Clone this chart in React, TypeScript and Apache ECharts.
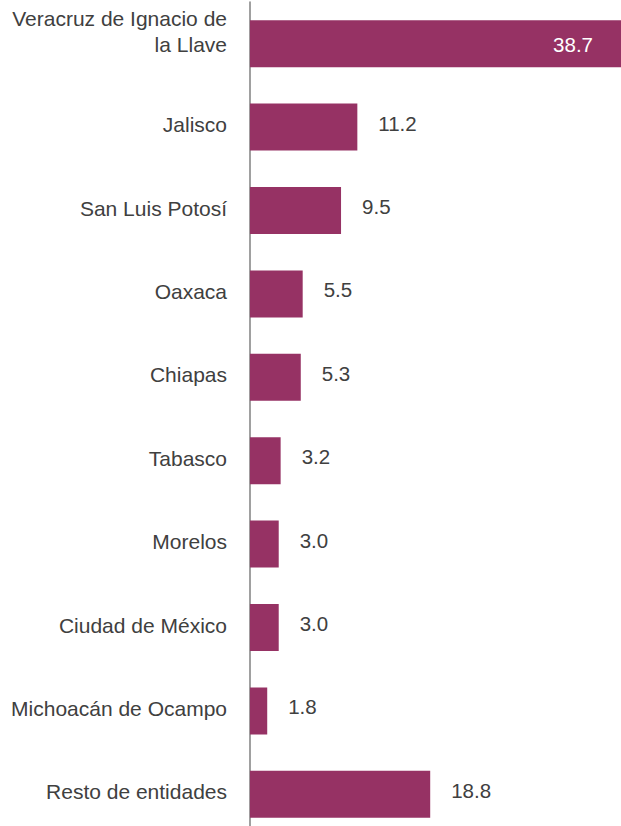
import React, { useEffect, useRef } from "react";
import * as echarts from "echarts";

const categories = [
  "Veracruz de Ignacio de\nla Llave",
  "Jalisco",
  "San Luis Potosí",
  "Oaxaca",
  "Chiapas",
  "Tabasco",
  "Morelos",
  "Ciudad de México",
  "Michoacán de Ocampo",
  "Resto de entidades",
];
const values = [38.7, 11.2, 9.5, 5.5, 5.3, 3.2, 3.0, 3.0, 1.8, 18.8];

const BAR_COLOR = "#963264";
const TEXT_COLOR = "#404040";
const FONT = "Liberation Sans";

export default function App() {
  const ref = useRef<HTMLDivElement>(null);
  useEffect(() => {
    if (!ref.current) return;
    const chart = echarts.init(ref.current, undefined, { renderer: "svg" });
    chart.setOption({
      animation: false,
      grid: { left: 242, right: 0, top: 2, bottom: 0, containLabel: false },
      xAxis: {
        type: "value",
        min: -0.83,
        max: 38.7,
        show: false,
      },
      yAxis: {
        type: "category",
        inverse: true,
        data: categories,
        axisTick: { show: false },
        axisLine: { show: true, lineStyle: { color: "#808080", width: 1.5 } },
        axisLabel: {
          margin: 15,
          color: TEXT_COLOR,
          fontSize: 21,
          fontFamily: FONT,
          formatter: (v: string) => {
            const lines = v.split("\n").map((l) => `{t|${l}}`).join("\n");
            return lines.indexOf("\n") >= 0 ? `${lines}\n{gapL| }` : `${lines}\n{gapS| }`;
          },
          rich: {
            t: { fontSize: 21, fontFamily: FONT, color: TEXT_COLOR, lineHeight: 26.5 },
            gapL: { fontSize: 2, lineHeight: 24 },
            gapS: { fontSize: 2, lineHeight: 5 },
          },
        },
      },
      series: [
        {
          type: "bar",
          barWidth: 47,
          itemStyle: { color: BAR_COLOR },
          data: values.map((v, i) =>
            i === 0
              ? {
                  value: v,
                  label: {
                    position: "insideRight",
                    distance: 28,
                    color: "#ffffff",
                    offset: [0, 1],
                  },
                }
              : v
          ),
          label: {
            show: true,
            position: "right",
            distance: 21,
            offset: [0, -4],
            color: TEXT_COLOR,
            fontSize: 20.5,
            fontFamily: FONT,
            formatter: (p: any) => Number(p.value).toFixed(1),
          },
        },
      ],
    });
    return () => chart.dispose();
  }, []);
  return (
    <div
      style={{
        position: "fixed",
        top: 0,
        left: 0,
        width: 621,
        height: 826,
        overflow: "hidden",
        background: "#ffffff",
      }}
    >
      <div ref={ref} style={{ width: 621, height: 836 }} />
    </div>
  );
}
